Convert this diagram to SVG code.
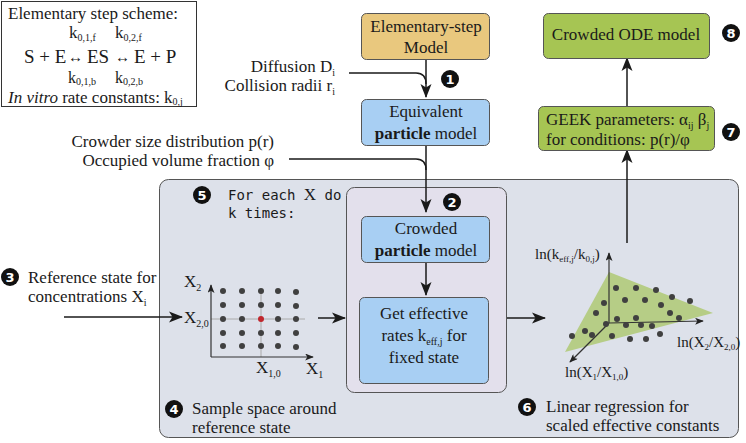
<svg xmlns="http://www.w3.org/2000/svg" width="746" height="443" viewBox="0 0 746 443">
<defs>
<style>
text{font-family:"Liberation Serif","Times New Roman",Tinos,"Nimbus Roman","Noto Serif","DejaVu Serif",FreeSerif,serif;fill:#1a1a1a}
.t17{font-size:17px}
.mono{font-family:"DejaVu Sans Mono","Liberation Mono",monospace;font-size:14px}
.box{stroke:#555;stroke-width:1}
.gold{fill:#E9C87E}
.blue{fill:#A8CFF3}
.green{fill:#A6C553}
.line{fill:none;stroke:#1a1a1a;stroke-width:1.5}
.thin{fill:none;stroke:#333;stroke-width:1.2}
.badge circle{fill:#111}
.badge text{font-family:"DejaVu Sans","Liberation Sans",sans-serif;font-weight:bold;font-size:13px;fill:#fff;text-anchor:middle}
.dot{fill:#404040}
.sub{font-size:10px}
.ser{font-family:"Liberation Serif","Times New Roman",Tinos,"Noto Serif","DejaVu Serif",serif}
</style>
<marker id="arr" viewBox="0 0 14 12" refX="13" refY="6" markerWidth="14" markerHeight="12" markerUnits="userSpaceOnUse" orient="auto">
<path d="M0,0.5 L14,6 L0,11.5 L3.5,6 z" fill="#1a1a1a"/>
</marker>
<marker id="sarr" viewBox="0 0 10 8" refX="9" refY="4" markerWidth="9" markerHeight="7" markerUnits="userSpaceOnUse" orient="auto">
<path d="M0,0 L10,4 L0,8 L2.5,4 z" fill="#222"/>
</marker>
</defs>
<rect width="746" height="443" fill="#fff"/>

<!-- Scheme box -->
<g id="scheme">
<rect x="1.5" y="1.5" width="195" height="105" fill="#fff" stroke="#333" stroke-width="1"/>
<text x="8" y="19" class="t17">Elementary step scheme:</text>
<text x="69" y="38" font-size="17">k<tspan class="sub" dy="3">0,1,f</tspan></text>
<text x="115" y="38" font-size="17">k<tspan class="sub" dy="3">0,2,f</tspan></text>
<text x="24" y="63" font-size="19">S + E</text>
<text x="68" y="62" font-size="15">↔</text>
<text x="87" y="63" font-size="19">ES</text>
<text x="115" y="62" font-size="15">↔</text>
<text x="134" y="63" font-size="19">E + P</text>
<text x="68" y="83" font-size="16">k<tspan class="sub" dy="2">0,1,b</tspan></text>
<text x="115" y="83" font-size="16">k<tspan class="sub" dy="2">0,2,b</tspan></text>
<text x="8" y="103" class="t17"><tspan font-style="italic">In vitro</tspan> rate constants: k<tspan class="sub" dy="2">0,j</tspan></text>
</g>

<!-- Big panel -->
<g id="panel">
<rect x="159.5" y="179.5" width="579" height="258" rx="9" fill="#DDE1EA" stroke="#555" stroke-width="1"/>
</g>
<g id="inner">
<rect x="346.5" y="187.5" width="160" height="205" rx="8" fill="#E3E0EC" stroke="#555" stroke-width="1"/>
</g>

<!-- Connectors -->
<g id="connectors">
<path class="line" d="M426,60 V97" marker-end="url(#arr)"/>
<path class="line" d="M349,73 H416 Q426,73 426,84"/>
<path class="line" d="M426,145 V212" marker-end="url(#arr)"/>
<path class="line" d="M289,159 H416 Q426,159 426,170"/>
<path class="line" d="M426,262 V295" marker-end="url(#arr)"/>
<path class="line" d="M64,317 H182" marker-end="url(#arr)"/>
<path class="line" d="M318,318 H345" marker-end="url(#arr)"/>
<path class="line" d="M507,318 H545" marker-end="url(#arr)"/>
<path class="line" d="M627,243 V150" marker-end="url(#arr)"/>
<path class="line" d="M627,106 V58" marker-end="url(#arr)"/>
</g>

<!-- Nodes -->
<g id="elementary">
<rect class="box gold" x="361.5" y="13.5" width="128" height="46" rx="5"/>
<text x="426" y="32" class="t17" text-anchor="middle">Elementary-step</text>
<text x="426" y="53" class="t17" text-anchor="middle">Model</text>
</g>
<g id="equivalent">
<rect class="box blue" x="361.5" y="99.5" width="128" height="46" rx="5"/>
<text x="426" y="117" class="t17" text-anchor="middle">Equivalent</text>
<text x="426" y="139" class="t17" text-anchor="middle"><tspan font-weight="bold">particle</tspan> model</text>
</g>
<g id="crowded-particle">
<rect class="box blue" x="361.5" y="216.5" width="128" height="46" rx="5"/>
<text x="426" y="234" class="t17" text-anchor="middle">Crowded</text>
<text x="426" y="256" class="t17" text-anchor="middle"><tspan font-weight="bold">particle</tspan> model</text>
</g>
<g id="effective-rates">
<rect class="box blue" x="359.5" y="297.5" width="129" height="86" rx="5"/>
<text x="424" y="319" class="t17" text-anchor="middle">Get effective</text>
<text x="424" y="341" class="t17" text-anchor="middle">rates k<tspan class="sub" dy="4">eff,j</tspan><tspan dy="-4"> for</tspan></text>
<text x="424" y="363" class="t17" text-anchor="middle">fixed state</text>
</g>
<g id="ode">
<rect class="box green" x="543.5" y="13.5" width="166" height="45" rx="5"/>
<text x="626" y="40" class="t17" text-anchor="middle">Crowded ODE model</text>
</g>
<g id="geek">
<rect class="box green" x="538.5" y="106.5" width="176" height="44" rx="5"/>
<text x="546" y="125" class="t17">GEEK parameters: α<tspan class="sub" dy="4">ij</tspan><tspan dy="-4"> β</tspan><tspan class="sub" dy="4">j</tspan></text>
<text x="546" y="145" class="t17">for conditions: p(r)/φ</text>
</g>

<!-- Input labels -->
<g id="inputs">
<text x="335" y="72" class="t17" text-anchor="end">Diffusion D<tspan class="sub" dy="4">i</tspan></text>
<text x="335" y="91" class="t17" text-anchor="end">Collision radii r<tspan class="sub" dy="4">i</tspan></text>
<text x="274" y="147" class="t17" text-anchor="end">Crowder size distribution p(r)</text>
<text x="274" y="166" class="t17" text-anchor="end">Occupied volume fraction φ</text>
<text x="28" y="283" class="t17">Reference state for</text>
<text x="28" y="302" class="t17">concentrations X<tspan class="sub" dy="4">i</tspan></text>
</g>

<!-- Loop text -->
<g id="loop-text">
<text x="228" y="200" class="mono">For each <tspan class="ser" font-size="17">X</tspan> do</text>
<text x="228" y="218" class="mono">k times:</text>
</g>

<!-- Grid sample plot -->
<g id="grid-plot">
<path d="M211,319 H305 M261,291 V357" stroke="#aaa" stroke-width="1" fill="none"/>
<path class="thin" d="M211,357 V285" marker-end="url(#sarr)"/>
<path class="thin" d="M211,357 H313" marker-end="url(#sarr)"/>
<g class="dot">
<circle cx="223" cy="291" r="3"/><circle cx="242" cy="291" r="3"/><circle cx="261" cy="291" r="3"/><circle cx="278" cy="291" r="3"/><circle cx="296" cy="292" r="3"/>
<circle cx="223" cy="305" r="3"/><circle cx="242" cy="305" r="3"/><circle cx="261" cy="305" r="3"/><circle cx="278" cy="305" r="3"/><circle cx="296" cy="306" r="3"/>
<circle cx="223" cy="319" r="3"/><circle cx="242" cy="319" r="3"/><circle cx="278" cy="319" r="3"/><circle cx="296" cy="319" r="3"/>
<circle cx="223" cy="333" r="3"/><circle cx="242" cy="333" r="3"/><circle cx="261" cy="333" r="3"/><circle cx="278" cy="333" r="3"/><circle cx="296" cy="333" r="3"/>
<circle cx="223" cy="346" r="3"/><circle cx="242" cy="346" r="3"/><circle cx="261" cy="346" r="3"/><circle cx="278" cy="346" r="3"/><circle cx="296" cy="347" r="3"/>
</g>
<circle cx="261" cy="319" r="3" fill="#C0272D"/>
<text x="184" y="287" class="t17">X<tspan class="sub" dy="4">2</tspan></text>
<text x="184" y="323" class="t17">X<tspan class="sub" dy="4">2,0</tspan></text>
<text x="256" y="373" class="t17">X<tspan class="sub" dy="4">1,0</tspan></text>
<text x="306" y="374" class="t17">X<tspan class="sub" dy="4">1</tspan></text>
</g>

<!-- Regression plot -->
<g id="regression-plot">
<polygon points="609,272 713,313 565,352" fill="#B6CD86"/>
<path class="thin" d="M609,323 V253" marker-end="url(#sarr)"/>
<path class="thin" d="M609,323 L703,321" marker-end="url(#sarr)"/>
<path class="thin" d="M609,323 L570,362" marker-end="url(#sarr)"/>
<g class="dot">
<circle cx="616" cy="288" r="3"/><circle cx="636" cy="288" r="3"/><circle cx="656" cy="290" r="3"/><circle cx="672" cy="297" r="3"/><circle cx="690" cy="301" r="3"/>
<circle cx="625" cy="300" r="3"/><circle cx="645" cy="300" r="3"/><circle cx="661" cy="305" r="3"/><circle cx="670" cy="313" r="3"/><circle cx="679" cy="318" r="3"/>
<circle cx="604" cy="303" r="3"/><circle cx="596" cy="313" r="3"/><circle cx="617" cy="319" r="3"/><circle cx="636" cy="318" r="3"/>
<circle cx="626" cy="325" r="3"/><circle cx="641" cy="325" r="3"/><circle cx="652" cy="326" r="3"/><circle cx="606" cy="324" r="3"/>
<circle cx="585" cy="331" r="3"/><circle cx="592" cy="335" r="3"/><circle cx="572" cy="336" r="3"/><circle cx="612" cy="336" r="3"/>
<circle cx="630" cy="339" r="3"/><circle cx="646" cy="339" r="3"/><circle cx="660" cy="334" r="3"/>
</g>
<text x="535" y="259" font-size="15">ln(k<tspan dy="3" font-size="9">eff,j</tspan><tspan dy="-3">/k</tspan><tspan dy="3" font-size="9">0,j</tspan><tspan dy="-3">)</tspan></text>
<text x="677" y="347" font-size="15">ln(X<tspan dy="3" font-size="9">2</tspan><tspan dy="-3">/X</tspan><tspan dy="3" font-size="9">2,0</tspan><tspan dy="-3">)</tspan></text>
<text x="565" y="377" font-size="15">ln(X<tspan dy="3" font-size="9">1</tspan><tspan dy="-3">/X</tspan><tspan dy="3" font-size="9">1,0</tspan><tspan dy="-3">)</tspan></text>
</g>

<!-- Step labels -->
<g id="step-labels">
<text x="192" y="414" class="t17">Sample space around</text>
<text x="192" y="433" class="t17">reference state</text>
<text x="546" y="412" class="t17">Linear regression for</text>
<text x="546" y="431" class="t17">scaled effective constants</text>
</g>

<!-- Badges -->
<g id="badge1" class="badge"><circle cx="450" cy="79" r="9"/><text x="450" y="84">1</text></g>
<g id="badge2" class="badge"><circle cx="452" cy="202" r="9"/><text x="452" y="207">2</text></g>
<g id="badge3" class="badge"><circle cx="10" cy="277" r="9"/><text x="10" y="282">3</text></g>
<g id="badge4" class="badge"><circle cx="174" cy="409" r="9"/><text x="174" y="414">4</text></g>
<g id="badge5" class="badge"><circle cx="202" cy="195" r="9"/><text x="202" y="200">5</text></g>
<g id="badge6" class="badge"><circle cx="527" cy="407" r="9"/><text x="527" y="412">6</text></g>
<g id="badge7" class="badge"><circle cx="731" cy="132" r="9"/><text x="731" y="137">7</text></g>
<g id="badge8" class="badge"><circle cx="731" cy="33" r="9"/><text x="731" y="38">8</text></g>
</svg>
